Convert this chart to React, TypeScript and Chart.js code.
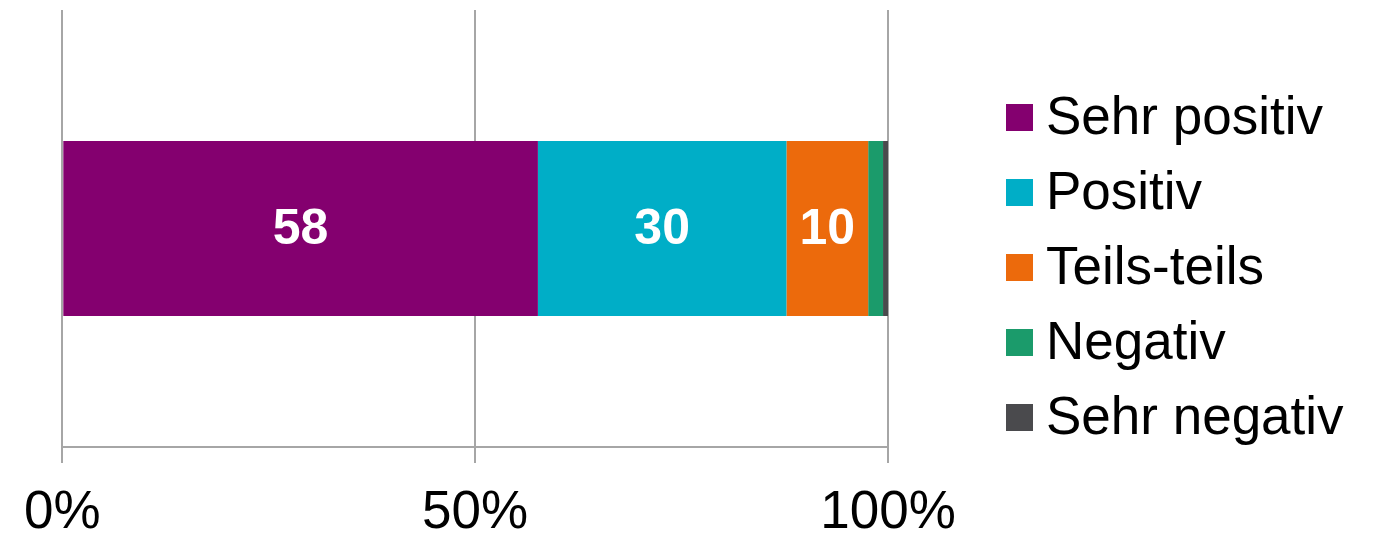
import React, { useEffect, useRef } from "react";
import { Chart, registerables } from "chart.js";

Chart.register(...registerables);

const categories = [""];
const seriesLabels = ["Sehr positiv", "Positiv", "Teils-teils", "Negativ", "Sehr negativ"];
const seriesValues = [57.6, 30.1, 9.9, 1.8, 0.6];
const seriesColors = ["#84006F", "#00AEC7", "#EC6A0C", "#1B9B6B", "#4A4A4D"];
const xTickValues = [0, 50, 100];

const FONT = "'Liberation Sans', Arial, sans-serif";

const valueLabelPlugin = {
  id: "valueLabels",
  afterDatasetsDraw(chart: any) {
    const ctx = chart.ctx;
    ctx.save();
    ctx.fillStyle = "#ffffff";
    ctx.font = `bold 50px ${FONT}`;
    ctx.textAlign = "center";
    ctx.textBaseline = "middle";
    chart.data.datasets.forEach((ds: any, i: number) => {
      const meta = chart.getDatasetMeta(i);
      meta.data.forEach((el: any, j: number) => {
        const v = ds.data[j];
        if (v < 5) return;
        const p = el.getProps(["x", "y", "base"], true);
        ctx.fillText(String(Math.round(v)), (p.x + p.base) / 2, p.y + 2);
      });
    });
    ctx.restore();
  },
};

const sideLegendPlugin = {
  id: "sideLegend",
  afterDraw(chart: any) {
    const ctx = chart.ctx;
    const boxX = 1006;
    const firstCenter = 117.5;
    const step = 75;
    const box = 27;
    ctx.save();
    ctx.font = `53px ${FONT}`;
    ctx.textAlign = "left";
    ctx.textBaseline = "middle";
    chart.data.datasets.forEach((ds: any, i: number) => {
      const cy = firstCenter + i * step;
      ctx.fillStyle = ds.backgroundColor;
      ctx.fillRect(boxX, cy - box / 2, box, box);
      ctx.fillStyle = "#000000";
      ctx.fillText(ds.label, boxX + 40, cy + 2);
    });
    ctx.restore();
  },
};

export default function App() {
  const ref = useRef<HTMLCanvasElement | null>(null);

  useEffect(() => {
    if (!ref.current) return;
    const chart = new Chart(ref.current, {
      type: "bar",
      data: {
        labels: categories,
        datasets: seriesLabels.map((label, i) => ({
          label,
          data: [seriesValues[i]],
          backgroundColor: seriesColors[i],
          borderWidth: 0,
          categoryPercentage: 1,
          barPercentage: 0.4,
        })),
      },
      options: {
        indexAxis: "y",
        animation: false,
        responsive: false,
        devicePixelRatio: 1,
        layout: { padding: { top: 10, left: 62, right: 487, bottom: -31 } },
        plugins: {
          legend: { display: false },
          tooltip: { enabled: false },
        },
        scales: {
          x: {
            stacked: true,
            min: 0,
            max: 100,
            afterBuildTicks: (scale: any) => {
              scale.ticks = xTickValues.map((v) => ({ value: v }));
            },
            ticks: {
              callback: (v: any) => `${v}%`,
              color: "#000000",
              font: { family: FONT, size: 53, lineHeight: 1 },
              padding: 24,
              maxRotation: 0,
              autoSkip: false,
            },
            grid: { color: "#A6A6A6", lineWidth: 2, tickLength: 16, drawTicks: true },
            border: { display: true, color: "#A6A6A6", width: 2 },
          },
          y: { stacked: true, display: false },
        },
      },
      plugins: [valueLabelPlugin, sideLegendPlugin],
    } as any);
    return () => chart.destroy();
  }, []);

  return (
    <div style={{ position: "absolute", left: 0, top: 0, width: 1375, height: 533, background: "#fff" }}>
      <canvas ref={ref} width={1375} height={533} />
    </div>
  );
}
